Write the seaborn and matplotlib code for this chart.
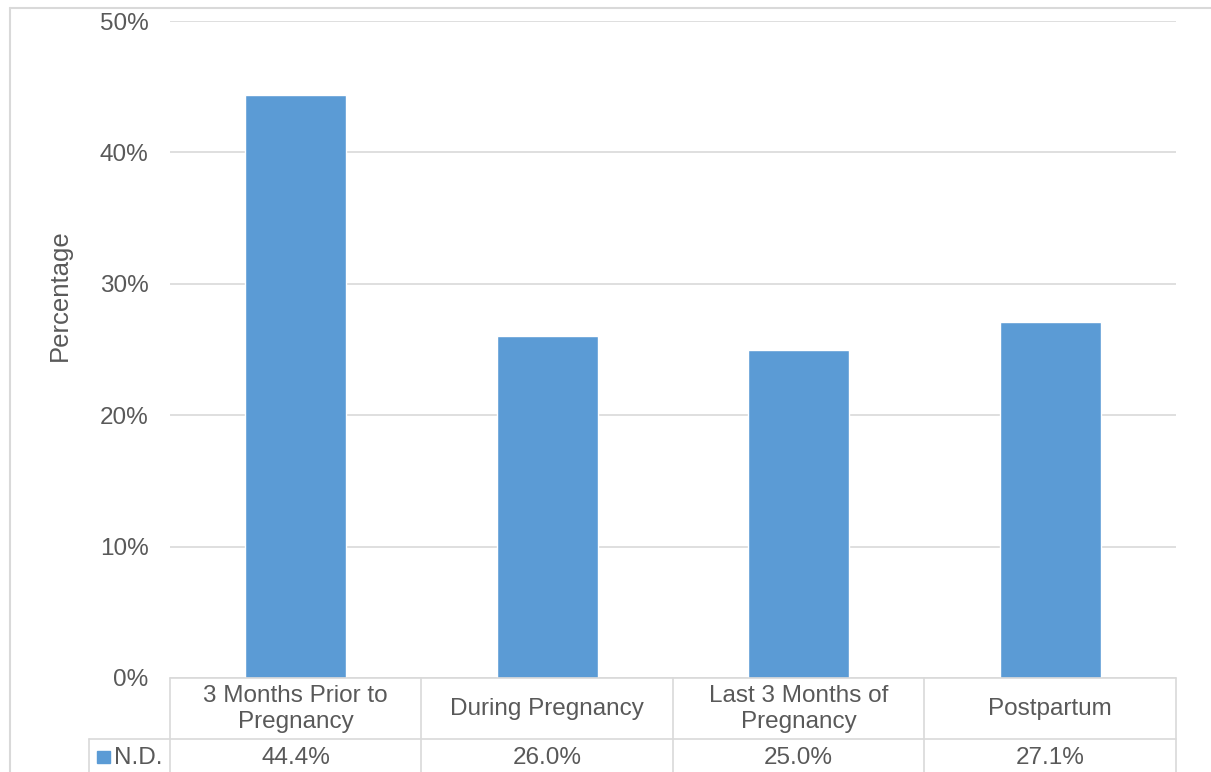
import pandas as pd
import seaborn as sns
import matplotlib.pyplot as plt
from matplotlib.lines import Line2D
from matplotlib.patches import Rectangle
from matplotlib.ticker import PercentFormatter

# Data
categories = ['3 Months Prior to\nPregnancy', 'During Pregnancy',
              'Last 3 Months of\nPregnancy', 'Postpartum']
values = [44.4, 26.0, 25.0, 27.1]
series_name = 'N.D.'
yticks = [0, 10, 20, 30, 40, 50]

df = pd.DataFrame({'period': categories, 'pct': values})

sns.set_style('white')
plt.rcParams['font.family'] = ['Liberation Sans', 'DejaVu Sans']

bar_color = '#5B9BD5'
text_color = '#595959'
line_color = '#D9D9D9'
fs = 17.5

W, H = 1211, 772
fig = plt.figure(figsize=(W / 100, H / 100), dpi=100)
ax = fig.add_axes([170 / W, 1 - 678 / H, (1176 - 170) / W, (678 - 21) / H])

sns.barplot(data=df, x='period', y='pct', color=bar_color, width=0.4,
            saturation=1, ax=ax)
ax.set_xlim(-0.5, len(categories) - 0.5)
ax.set_ylim(0, 50)
ax.set_yticks(yticks)
ax.yaxis.set_major_formatter(PercentFormatter(decimals=0))
ax.tick_params(axis='y', length=0, pad=15.5, labelsize=fs, labelcolor=text_color)
ax.set_xticks([])
ax.set_xlabel('')
ax.set_ylabel('')
for s in ax.spines.values():
    s.set_visible(False)
ax.grid(axis='y', color=line_color, linewidth=1.2)
ax.set_axisbelow(True)

fig.text(60 / W, 1 - 295 / H, 'Percentage', rotation=90, ha='center', va='center',
         fontsize=18.5, color=text_color)

# chart outer border
fig.add_artist(Line2D([10 / W, 10 / W], [0, 1 - 8 / H], transform=fig.transFigure,
                      color=line_color, lw=1.5))
fig.add_artist(Line2D([10 / W, 1], [1 - 8 / H, 1 - 8 / H], transform=fig.transFigure,
                      color=line_color, lw=1.5))


def fx(xd):
    return fig.transFigure.inverted().transform(ax.transData.transform((xd, 0)))[0]


def fy(py):
    return 1 - py / H


def hline(x0, x1, py):
    fig.add_artist(Line2D([x0, x1], [fy(py), fy(py)], transform=fig.transFigure,
                          color=line_color, lw=1.2))


def vline(x, py0, py1):
    fig.add_artist(Line2D([x, x], [fy(py0), fy(py1)], transform=fig.transFigure,
                          color=line_color, lw=1.2))


# data table
left_x = fx(-0.5)
right_x = fx(len(categories) - 0.5)
leg_x = 89 / W
hline(left_x, right_x, 678)
hline(leg_x, right_x, 739)
for i in range(len(categories) + 1):
    vline(fx(i - 0.5), 678, 775)
vline(leg_x, 739, 775)

for i, (cat, val) in enumerate(zip(categories, values)):
    fig.text(fx(i), fy(709), cat, ha='center', va='center', fontsize=fs,
             color=text_color, linespacing=1.25)
    fig.text(fx(i), fy(758), f'{val:.1f}%', ha='center', va='center',
             fontsize=fs, color=text_color)

fig.add_artist(Rectangle((97 / W, fy(763)), 13 / W, 12 / H, transform=fig.transFigure,
                         color=bar_color))
fig.text(114 / W, fy(758), series_name, ha='left', va='center', fontsize=fs,
         color=text_color)

fig.savefig('out.png', dpi=100)
